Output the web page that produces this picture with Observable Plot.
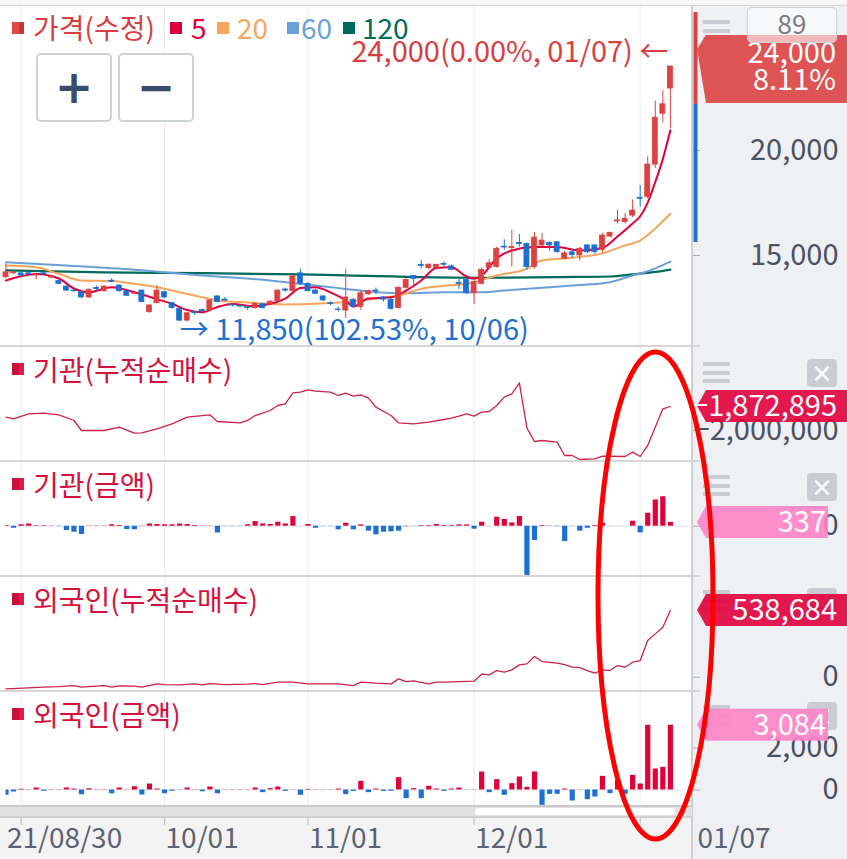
<!DOCTYPE html>
<html><head><meta charset="utf-8">
<script src="https://cdn.jsdelivr.net/npm/d3@7"></script>
<script src="https://cdn.jsdelivr.net/npm/@observablehq/plot@0.6"></script>
<style>
body{margin:0;background:#fff;}
#c{position:relative;width:847px;height:859px;overflow:hidden;font-family:"Noto Sans CJK KR","Noto Sans",sans-serif;background:#fff;}
.abs{position:absolute;}
.sq{position:absolute;width:12px;height:12px;}
.txt{position:absolute;font-size:28px;line-height:32px;white-space:nowrap;}
.hb{position:absolute;left:703px;width:27px;height:4px;background:#c9ccd2;}
.xb{position:absolute;left:807px;width:30px;height:28px;border-radius:4px;background:#c9ccd3;color:#fff;font-size:26px;line-height:28px;text-align:center;font-family:"DejaVu Sans",sans-serif;}
.btn{position:absolute;top:53px;width:72px;height:65px;border:2px solid #cdd1d8;border-radius:5px;background:#fff;color:#3b4b6d;font-family:"DejaVu Sans",sans-serif;font-weight:bold;font-size:46px;line-height:64px;text-align:center;}
</style></head><body><div id="c"></div>
<script>
// ---------- DATA ----------
const open  = [13970,14150,14150,14150,14050,14150,13950,13780,13520,13330,13250,13000,13450,13300,13800,13570,13300,13180,13330,12300,12730,13250,12730,12460,11900,12300,12400,12380,13050,12900,12650,12600,12550,12500,12680,12650,12820,13380,13300,14150,13650,13330,13050,12720,12430,12380,12890,12550,13150,13330,13000,12890,12500,13460,14030,14550,14400,14400,14600,14480,13700,13840,13200,13650,14400,14450,15420,15350,15600,15550,14450,15480,15600,15630,14850,15150,15000,15480,15480,15270,15900,16620,16600,16900,17750,17780,19330,21750,22950];
const high  = [14600,14300,14200,14250,14150,14200,14050,13800,13550,13400,13300,13400,13550,13550,13900,13600,13300,13250,13350,12650,13570,13300,12750,12480,12300,12350,12450,12900,13100,13000,12700,12650,12600,12750,12700,12850,13350,13450,14050,14350,13700,13400,13100,12800,12550,14350,12950,13300,13350,13450,13050,12950,13500,13900,14050,14750,14600,14580,14700,14550,13900,13900,13800,14400,14800,15400,15750,16200,16000,15600,16100,16050,15650,15650,15200,15300,15400,15500,15500,16050,16100,17150,17000,17650,18330,19700,22350,22850,24000];
const low   = [13900,14100,14000,14050,13850,14050,13900,13600,13300,13250,12950,12950,13300,13250,13700,13250,13050,13150,12750,12250,12700,12950,12450,11850,11850,12150,12300,12350,12750,12800,12550,12500,12400,12450,12450,12600,12800,13250,13280,13600,13280,13150,12800,12600,12300,12000,12500,12380,13100,13150,12780,12400,12450,13400,13570,14350,14300,14350,14450,14300,13380,13150,12670,13600,14350,14400,15250,14450,15400,14300,14350,15400,15200,15100,14800,14850,14750,15100,15050,15100,15850,16500,16500,16800,17300,17700,19150,21300,21050];
const close = [14200,14200,14050,14100,14100,14100,14000,13650,13330,13300,13000,13370,13400,13520,13750,13300,13080,13200,12780,12620,13330,13000,12500,11900,12250,12250,12350,12860,12780,12850,12620,12570,12500,12700,12500,12800,13330,13330,14000,13650,13300,13180,12860,12690,12400,13000,12570,13200,13300,13280,12900,12460,13460,13840,13890,14500,14560,14560,14560,14320,13650,13200,13730,14320,14630,15320,15380,15400,15550,14450,15850,15710,15480,15160,15100,15030,15320,15160,15160,15950,16080,16670,16750,17140,17700,19330,21560,22200,24000];

const ma5Idx = [0,4,7,9,11,14,17,20,22,24,26,28,30,33,35,37,39,41,43,45,46,48,51,53,55,57,59,61,62,63,65,67,70,73,76,79,81,83,84,85,86,87,88];
const ma5Val = [13810,14120,13905,13430,13250,13490,13250,12920,12700,12405,12300,12550,12690,12580,12700,12950,13450,13490,13240,12860,12570,12950,13010,13330,13810,14400,14440,14000,13890,14050,14860,15240,15400,15400,15240,15360,15900,16520,16870,17520,18500,19590,20960];
const ma20Idx = [0,4,7,10,14,17,20,23,26,28,31,35,37,41,45,49,52,55,62,65,69,71,74,79,82,84,86,88];
const ma20Val = [14520,14440,14130,13810,13780,13650,13490,13250,13010,12860,12780,12700,12670,12700,12780,12950,13100,13410,13730,14050,14370,14760,14860,15100,15480,15710,16290,16990];
const ma60Idx = [0,8,17,26,35,39,43,45,49,53,58,63,66,71,75,80,83,85,88];
const ma60Val = [14680,14520,14320,14050,13810,13650,13490,13410,13250,13200,13250,13250,13330,13460,13570,13730,14050,14250,14710];
const ma120Idx = [0,13,26,39,45,62,76,80,83,86,88];
const ma120Val = [14290,14200,14160,14100,14050,13940,13980,14000,14100,14220,14330];

const insCumIdx = [0,1,3,5,7,9,10,13,15,17,18,20,22,24,27,28,31,32,33,35,36,37,38,39,40,41,43,44,45,46,47,48,49,51,52,54,56,58,59,60,61,62,63,64,65,66,67,68,69,70,71,73,74,75,76,78,79,82,83,84,85,87,88];
const insCumVal = [-1929400,-1938200,-1911700,-1908200,-1917000,-1947000,-2000000,-2000000,-1982300,-2014100,-2012400,-1991200,-1964700,-1929400,-1917000,-1952300,-1959400,-1947000,-1920600,-1894100,-1867600,-1858800,-1800500,-1797000,-1784600,-1791700,-1797000,-1814600,-1802300,-1818200,-1811100,-1828800,-1876400,-1920600,-1959400,-1964700,-1955900,-1941700,-1934700,-1924100,-1911700,-1924100,-1902900,-1899400,-1867600,-1823500,-1805800,-1747500,-1987600,-2058300,-2053000,-2061800,-2132400,-2132400,-2153600,-2150000,-2135900,-2137700,-2114800,-2137700,-2079400,-1885200,-1872895];
const insAmt = [60,-180,120,200,30,30,20,-30,-380,-530,-730,10,20,20,120,60,-290,-320,20,200,150,120,120,200,150,60,20,20,-590,-30,-30,-30,120,410,200,150,350,200,850,10,150,-180,-20,-20,-320,260,-320,120,-440,-760,-530,-500,-440,-50,-20,60,60,150,60,60,120,120,-260,350,10,790,590,290,850,-5200,-1260,60,20,-30,-1350,10,-440,-180,60,260,10,-10,-10,440,-590,1140,2310,2600,337];
const frCumIdx = [0,3,5,7,9,10,11,13,14,15,17,18,20,21,23,25,26,27,29,32,33,34,36,38,40,42,44,46,47,49,51,52,53,54,56,57,58,60,62,63,64,65,66,67,68,69,70,71,73,74,75,76,77,78,79,80,81,82,83,84,85,86,87,88];
const frCumVal = [-94200,-86100,-80800,-75400,-67300,-80800,-75400,-67300,-80800,-70000,-72700,-80800,-53800,-59200,-61900,-53800,-61900,-51100,-59200,-56500,-51100,-59200,-40400,-40400,-53800,-53800,-53800,-67300,-40400,-48500,-53800,-13400,-35000,-29600,-53800,-40400,-40400,-35000,-32300,24200,18800,53800,40400,59200,99600,107700,166900,126500,113100,102300,80800,78100,53800,32300,59200,53800,94200,80800,121100,134600,296100,350000,403800,538684];
const frAmt = [-254,-95,30,10,95,-60,10,10,95,48,-222,63,10,10,-175,95,10,159,-238,286,48,-175,-63,10,95,10,-79,143,-175,10,10,10,10,95,-127,63,143,-63,10,-254,32,10,-10,10,48,-222,-63,413,-127,48,-63,-63,587,-413,63,-413,175,48,-63,48,95,-10,10,857,-127,492,-254,302,619,127,857,-730,-206,-206,48,-524,10,-460,-333,651,-175,460,-206,698,286,3084,1000,1079,3084];

const xGridIdx = [2,21,40,62,84];
const xLabelIdx = [0,21,40,62];
const xLabels = ["21/08/30","10/01","11/01","12/01"];
const lastDate = "01/07";
const dayCount = "89";
const priceTicks = [15000,20000];
const insCumTicks = [-2000000];
const insAmtTicks = [0];
const frCumTicks = [0];
const frAmtTicks = [0,2000];
const lastPrice = 24000, lastPct = "8.11%";
const highNote = "24,000(0.00%, 01/07) ←";
const lowIdx = 23, lowPrice = 11850, lowNote = "→ 11,850(102.53%, 10/06)";
const prevClose = 22200, rangeTop = 26570, rangeBottom = 15620;
const insCumLast = -1872895, insAmtLast = 337, frCumLast = 538684, frAmtLast = 3084;
const legendItems = [
  {name:"가격(수정)", color:"#d8403f"},
  {name:"5", color:"#e1003b"},
  {name:"20", color:"#f6a55a"},
  {name:"60", color:"#6b9fd8"},
  {name:"120", color:"#006a5b"}];
const panelTitles = ["기관(누적순매수)","기관(금액)","외국인(누적순매수)","외국인(금액)"];

// ---------- STYLE ----------
const FONT = '"Noto Sans CJK KR","Noto Sans",sans-serif';
const UP = "#dc4242", DOWN = "#1c6fd2";
const BAR_UP = "#e2003a", BAR_DN = "#1f70d4";
const LINE = "#cc2249", AXIS = "#4b5261", XC = "#5b6271";
const TAG_RED = "#e0003c", TAG_PINK = "#ff82c6";
const W = 847, ML = 5.5, MR = 155, XMAX = 90.93;
const C = document.getElementById("c");
const fmt = d3.format(",");

function div(css, html, cls) { const d = document.createElement("div"); d.className = cls || "abs"; d.style.cssText = css; if (html != null) d.textContent = html; C.appendChild(d); return d; }

// backgrounds
div("left:0;top:0;width:847px;height:5px;background:#f7f7f7");
div("left:0;top:5px;width:847px;height:1px;background:#d5d5d5");
div("left:692px;top:6px;width:155px;height:853px;background:#eef0f4");
div("left:0;top:818px;width:692px;height:41px;background:#f3f3f3");
div("left:691px;top:6px;width:2px;height:853px;background:#cdcfd3");
for (const t of [345,460,575,690]) div(`left:0;top:${t}px;width:700px;height:2px;background:#d6d6d6`);
div("left:0;top:805px;width:692px;height:2px;background:#c9c9c9");
div("left:0;top:807px;width:692px;height:9px;background:#e2e2e2");
div("left:475px;top:808px;width:200px;height:7px;background:#fff;border-radius:4px");
div("left:0;top:816px;width:692px;height:2px;background:#d0d0d0");
// panel handles and close boxes (drawn beneath the value tags)
const handleTops = [20, 362, 475, 590, 705];
handleTops.forEach(t => { for (let k = 0; k < 3; k++) div(`top:${t + k * 8.5}px`, null, "hb"); });
[359, 473, 588, 702].forEach(t => div(`top:${t}px`, "×", "xb"));

function place(svg, top) { svg.style.position = "absolute"; svg.style.left = "0px"; svg.style.top = top + "px"; C.appendChild(svg); }
function panel(height, domain, marks) {
  return Plot.plot({width: W, height, marginLeft: ML, marginRight: MR, marginTop: 0, marginBottom: 0,
    style: {background: "transparent", fontFamily: FONT, overflow: "visible"},
    x: {domain: [0, XMAX], axis: null}, y: {domain, axis: null}, color: {type: "identity"}, marks});
}
function rightAxis(ticks, tf) {
  return Plot.axisY({ticks, anchor: "right", tickSize: 7, tickPadding: 139, textAnchor: "end", tickFormat: tf || fmt,
    fontSize: 29, fill: AXIS, stroke: "#a9adb4", label: null});
}
function tag(value, lines, color, right, o) {
  o = Object.assign({tip: 0, top: -16, bottom: 16, dys: [0], fs: 29, textRight: right - 10}, o || {});
  return (index, scales, values, dims) => {
    const y = scales.y(value);
    const x0 = dims.width - dims.marginRight + 5;
    const g = d3.create("svg:g");
    g.append("path").attr("fill", color).attr("fill-opacity", 0.9)
      .attr("d", `M${x0},${y + o.tip}L${x0 + 9},${y + o.top}H${right}V${y + o.bottom}H${x0 + 9}Z`);
    lines.forEach((t, k) => g.append("text").attr("x", o.textRight).attr("y", y + o.dys[k]).attr("dy", "0.36em")
      .attr("text-anchor", "end").attr("fill", "#fff").attr("font-size", o.fs).attr("font-family", FONT).text(t));
    return g.node();
  };
}
const grid = Plot.ruleX(xGridIdx, {stroke: "#ececec", strokeWidth: 1});
const mk = (idx, val) => idx.map((i, k) => ({i, v: val[k]}));

// ---------- PRICE ----------
const candles = close.map((c, i) => ({i, o: open[i], h: high[i], l: low[i], c, col: c >= open[i] ? UP : DOWN}));
place(panel(339, [10714, 26857], [
  grid,
  Plot.line(mk(ma120Idx, ma120Val), {x: "i", y: "v", stroke: "#006a5b", strokeWidth: 2.2, curve: "monotone-x"}),
  Plot.line(mk(ma60Idx, ma60Val), {x: "i", y: "v", stroke: "#6b9fd8", strokeWidth: 2, curve: "monotone-x"}),
  Plot.line(mk(ma20Idx, ma20Val), {x: "i", y: "v", stroke: "#f6a55a", strokeWidth: 2, curve: "monotone-x"}),
  Plot.line(mk(ma5Idx, ma5Val), {x: "i", y: "v", stroke: "#e1003b", strokeWidth: 2, curve: "monotone-x"}),
  Plot.ruleX(candles, {x: "i", y1: "l", y2: "h", stroke: "col", strokeWidth: 1}),
  Plot.rect(candles, {x1: d => d.i - 0.33, x2: d => d.i + 0.33, y1: "o", y2: "c", fill: "col", stroke: "col", strokeWidth: 0.8}),
  Plot.text([{i: 88, v: lastPrice}], {x: "i", y: "v", text: () => highNote, textAnchor: "end", dx: -2, dy: -14, fill: "#d8403f", fontSize: 29}),
  Plot.text([{i: lowIdx, v: lowPrice}], {x: "i", y: "v", text: () => lowNote, textAnchor: "start", dx: 0, dy: 9, fill: "#1f6fd0", fontSize: 29}),
  rightAxis(priceTicks),
  Plot.ruleX([{a: prevClose, b: rangeTop, c: UP}, {a: rangeBottom, b: prevClose, c: "#1f70d4"}], {x: XMAX, y1: "a", y2: "b", stroke: "c", strokeWidth: 4, dx: 3}),
  tag(lastPrice, [fmt(lastPrice), lastPct], UP, 847, {tip: -17, top: -31, bottom: 37, dys: [-13, 14], textRight: 836})
]), 6);

// ---------- 기관 누적 ----------
place(panel(113, [-2158880, -1560430], [
  grid,
  Plot.line(mk(insCumIdx, insCumVal), {x: "i", y: "v", stroke: LINE, strokeWidth: 1.3}),
  rightAxis(insCumTicks),
  tag(insCumLast, [fmt(insCumLast)], TAG_RED, 847, {textRight: 837})
]), 347);

// ---------- 기관 금액 ----------
const insBars = insAmt.map((v, i) => ({i, v, col: v >= 0 ? BAR_UP : BAR_DN}));
place(panel(113, [-4338, 5606], [
  grid,
  Plot.ruleY([0], {stroke: "#dde3ea", strokeWidth: 1}),
  Plot.ruleX(insBars, {x: "i", y1: 0, y2: "v", stroke: "col", strokeWidth: 5.2, clip: true}),
  rightAxis(insAmtTicks),
  tag(insAmtLast, [fmt(insAmtLast)], TAG_PINK, 828, {textRight: 826})
]), 462);

// ---------- 외국인 누적 ----------
place(panel(113, [-107400, 805200], [
  grid,
  Plot.line(mk(frCumIdx, frCumVal), {x: "i", y: "v", stroke: LINE, strokeWidth: 1.3}),
  rightAxis(frCumTicks),
  tag(frCumLast, [fmt(frCumLast)], TAG_RED, 847, {textRight: 837})
]), 577);

// ---------- 외국인 금액 ----------
const frBars = frAmt.map((v, i) => ({i, v, col: v >= 0 ? BAR_UP : BAR_DN}));
place(panel(113, [-738, 4641], [
  grid,
  Plot.ruleY([0], {stroke: "#dde3ea", strokeWidth: 1}),
  Plot.ruleX(frBars, {x: "i", y1: 0, y2: "v", stroke: "col", strokeWidth: 5.2, clip: true}),
  rightAxis(frAmtTicks),
  tag(frAmtLast, [fmt(frAmtLast)], TAG_PINK, 828, {textRight: 826})
]), 692);

// ---------- X AXIS ----------
place(Plot.plot({width: W, height: 53, marginLeft: ML, marginRight: MR, marginTop: 0, marginBottom: 0,
  style: {background: "transparent", fontFamily: FONT, overflow: "visible"},
  x: {domain: [0, XMAX], axis: null},
  marks: [
    Plot.ruleX(xGridIdx, {insetTop: 12, insetBottom: 34, stroke: "#b9bcc2"}),
    Plot.text(xLabelIdx, {x: d => d, text: (d, i) => xLabels[i], frameAnchor: "top", lineAnchor: "middle", dy: 33, dx: 1, textAnchor: "start", fontSize: 28, fill: XC}),
    Plot.text([lastDate], {frameAnchor: "top-right", lineAnchor: "middle", text: d => d, dx: 5, dy: 33, textAnchor: "start", fontSize: 28, fill: XC})
  ]}), 806);

// ---------- OVERLAYS ----------
const sqLeft = [12, 170, 217, 287, 343], txtLeft = [33, 191, 237, 301, 362];
legendItems.forEach((it, k) => {
  div(`left:${sqLeft[k]}px;top:22px;background:${k === 0 ? "linear-gradient(90deg,#e24a4a 55%,#c93636 55%)" : it.color}`, null, "sq");
  div(`left:${txtLeft[k]}px;top:11px;color:${it.color}`, it.name, "txt");
});
div("left:36px", "+", "btn");
div("left:118px", "−", "btn");
const titleTops = [353, 468, 583, 698];
panelTitles.forEach((t, k) => {
  div(`left:12px;top:${titleTops[k] + 10}px;background:linear-gradient(90deg,#c9103a 55%,#e3194a 55%)`, null, "sq");
  div(`left:33px;top:${titleTops[k]}px;color:#d3133d`, t, "txt");
});
div("left:747px;top:7px;width:88px;height:34px;border:1.5px solid #d2d4d8;border-radius:5px;background:rgba(255,255,255,0.6);color:#7c7c7c;font-size:26px;line-height:30px;text-align:center", dayCount);

// annotation ellipse
const ns = "http://www.w3.org/2000/svg";
const ov = document.createElementNS(ns, "svg");
ov.setAttribute("width", 847); ov.setAttribute("height", 859);
ov.style.cssText = "position:absolute;left:0;top:0;pointer-events:none";
const el = document.createElementNS(ns, "ellipse");
el.setAttribute("cx", 655.5); el.setAttribute("cy", 595.5); el.setAttribute("rx", 57.5); el.setAttribute("ry", 243.5);
el.setAttribute("fill", "none"); el.setAttribute("stroke", "#ff0000"); el.setAttribute("stroke-width", 5);
ov.appendChild(el); C.appendChild(ov);
</script></body></html>
